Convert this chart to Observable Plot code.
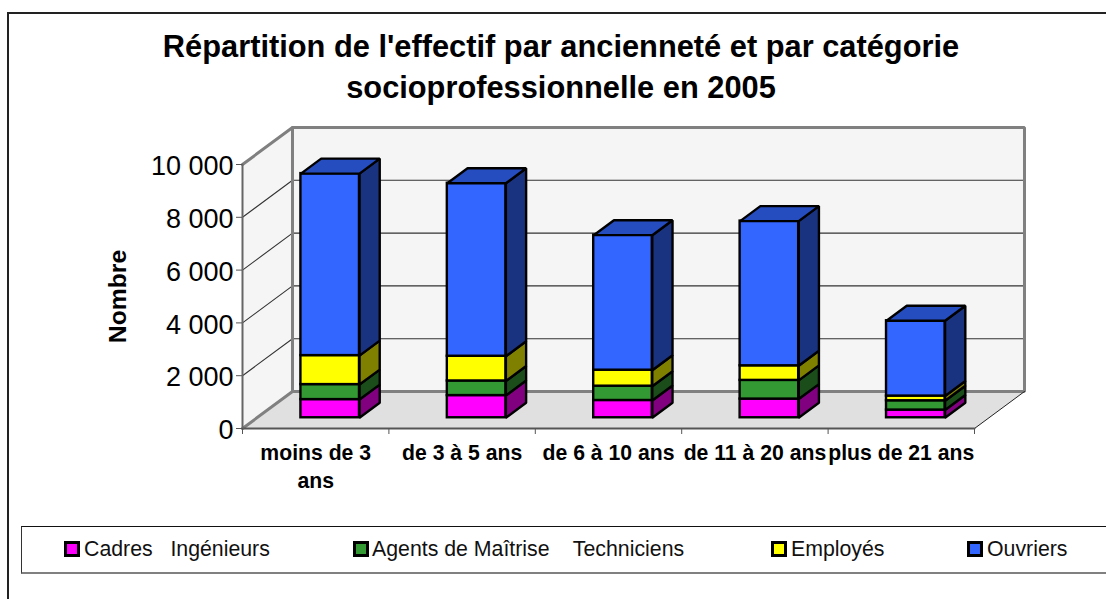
<!DOCTYPE html>
<html lang="fr">
<head>
<meta charset="utf-8">
<script src="https://cdn.jsdelivr.net/npm/d3@7"></script>
<script src="https://cdn.jsdelivr.net/npm/@observablehq/plot@0.6"></script>
<style>
html,body{margin:0;padding:0;background:#fff;width:1106px;height:599px;overflow:hidden;font-family:"Liberation Sans",Arial,sans-serif}
#frame{position:absolute;left:7px;top:12px;width:1200px;height:700px;border-left:2px solid #222;border-top:2px solid #222}
#title{position:absolute;left:0;width:1122px;top:27px;text-align:center;font-weight:bold;font-size:30.8px;line-height:40.5px;color:#000}
#legend{position:absolute;left:21px;top:526px;width:1200px;height:45px;border-left:1px solid #333;border-top:1px solid #111;border-bottom:2px solid #808080}
.item{position:absolute;top:14px;font-size:21.3px;line-height:17px;white-space:pre;color:#111}
.sw{position:absolute;top:14px;width:16px;height:16px;box-sizing:border-box;border:3px solid #000}
#chart{position:absolute;left:0;top:0}
</style>
</head>
<body>
<div id="frame"></div>
<div id="chart"></div>
<div id="title">Répartition de l'effectif par ancienneté et par catégorie<br>socioprofessionnelle en 2005</div>
<div id="legend"></div>
<script>
const categories = ["moins de 3\nans", "de 3 à 5 ans", "de 6 à 10 ans", "de 11 à 20 ans", "plus de 21 ans"];
const cadres   = [689, 841, 655, 708, 292];
const agents   = [568, 553, 542, 708, 352];
const employes = [1098, 936, 606, 553, 178];
const ouvriers = [6894, 6553, 5114, 5481, 2852];
const yTicks = [0, 2000, 4000, 6000, 8000, 10000];
const xTicks = [0, 1, 2, 3, 4, 5];
const seriesNames = ["Cadres   Ingénieurs", "Agents de Maîtrise    Techniciens", "Employés", "Ouvriers"];
const seriesValues = [cadres, agents, employes, ouvriers];
const frontColors = ["#ff00ff", "#339933", "#ffff00", "#3366ff"];
const sideColors = ["#800080", "#1a4d1a", "#808000", "#1a3380"];
const topColor = "#264dbf";
const legendSwatchX = [42, 331, 749, 945];
const legendTextX = [62, 350, 769, 965];

// oblique projection of the 3D box: depth 0 = front edge, depth 1 = back wall
const DX = 0.3415, DY = 1401.5;
const P = (c, v, d = 0) => ({x: c + d * DX, y: v + d * DY});
const D0 = 0.29, D1 = 0.695, HALF = 0.2;
const poly = (...pts) => pts.map(([c, v, d]) => P(c, v, d));
const closed = {x: "x", y: "y", curve: "linear-closed"};

const wallBack = poly([0,0,1],[5,0,1],[5,10000,1],[0,10000,1]);
const wallSide = poly([0,0,0],[0,0,1],[0,10000,1],[0,10000,0]);
const floor = poly([0,0,0],[5,0,0],[5,0,1],[0,0,1]);

const gridLines = yTicks.slice(1, -1).flatMap(v => [
  {g: v, ...P(0, v, 0)}, {g: v, ...P(0, v, 1)}, {g: v, ...P(5, v, 1)}
]);

// stacked segments
const segments = seriesValues.map((vals, s) => vals.map((v, i) => {
  const y0 = d3.sum(seriesValues.slice(0, s), a => a[i]);
  return {s, i, y0, y1: y0 + v};
}));

const barStroke = {stroke: "#000", strokeWidth: 2.4, strokeLinejoin: "miter"};
const barMarks = segments.flatMap((segs, s) => {
  const rows = segs.map(o => {
    const c = o.i + 0.5;
    return {...o, x1: P(c - HALF, 0, D0).x, x2: P(c + HALF, 0, D0).x, v1: P(c, o.y0, D0).y, v2: P(c, o.y1, D0).y, c};
  });
  const sides = rows.flatMap(o => poly([o.c+HALF,o.y0,D0],[o.c+HALF,o.y0,D1],[o.c+HALF,o.y1,D1],[o.c+HALF,o.y1,D0]).map(p => ({...p, id: o.i})));
  const marks = [
    Plot.line(sides, {...closed, z: "id", fill: sideColors[s], ...barStroke}),
    Plot.rect(rows, {x1: "x1", x2: "x2", y1: "v1", y2: "v2", fill: frontColors[s], stroke: "#000", strokeWidth: 2.4})
  ];
  if (s === seriesValues.length - 1) {
    const tops = rows.flatMap(o => poly([o.c-HALF,o.y1,D0],[o.c+HALF,o.y1,D0],[o.c+HALF,o.y1,D1],[o.c-HALF,o.y1,D1]).map(p => ({...p, id: o.i})));
    marks.push(Plot.line(tops, {...closed, z: "id", fill: topColor, ...barStroke}));
  }
  return marks;
});

const fmt = d => String(d).replace(/\B(?=(\d{3})+$)/g, " ");

const chart = Plot.plot({
  width: 1106, height: 599,
  marginLeft: 242, marginRight: 132, marginTop: 164, marginBottom: 171,
  style: {background: "transparent", fontFamily: "'Liberation Sans',Arial,sans-serif", overflow: "visible"},
  x: {domain: [0, 5], axis: null},
  y: {domain: [0, 10000], axis: null},
  marks: [
    Plot.line(wallBack, {...closed, fill: "#f5f5f5", stroke: "none"}),
    Plot.line(wallSide, {...closed, fill: "#f5f5f5", stroke: "none"}),
    Plot.line(floor, {...closed, fill: "#e0e0e0", stroke: "none"}),
    Plot.line(gridLines, {x: "x", y: "y", z: "g", stroke: "#333", strokeWidth: 1.1}),
    // wall outlines
    Plot.line(poly([0,0,0],[0,0,1],[5,0,1],[5,10000,1],[0,10000,1],[0,10000,0]), {x: "x", y: "y", stroke: "#808080", strokeWidth: 3, strokeLinejoin: "miter"}),
    Plot.line(poly([0,0,1],[0,10000,1]), {x: "x", y: "y", stroke: "#808080", strokeWidth: 3}),
    Plot.line(poly([5,0,0],[5,0,1]), {x: "x", y: "y", stroke: "#222", strokeWidth: 1}),
    Plot.line(poly([0,0,0],[5,0,0]), {x: "x", y: "y", stroke: "#555", strokeWidth: 2}),
    Plot.line(poly([0,0,0],[0,10000,0]), {x: "x", y: "y", stroke: "#666", strokeWidth: 2}),
    Plot.axisY({ticks: yTicks, tickFormat: () => "", tickSize: 6, label: null, stroke: "#555"}),
    Plot.text(yTicks, {x: () => 0, y: d => d, text: fmt, textAnchor: "end", dx: -9, dy: 2, fontSize: 27, fill: "#000"}),
    Plot.axisX({ticks: xTicks, tickFormat: () => "", tickSize: 6, label: null, stroke: "#555"}),
    ...barMarks,
    Plot.text(categories, {
      x: (d, i) => i + 0.5, y: () => 0, text: d => d, dy: 12,
      fontSize: 21.2, fontWeight: "bold", fill: "#000", lineAnchor: "top", lineHeight: 1.3
    }),
    Plot.text(["Nombre"], {
      frameAnchor: "left", dx: -124, dy: 0, rotate: -90, text: d => d, textAnchor: "middle",
      fontSize: 24.7, fontWeight: "bold", fill: "#000"
    })
  ]
});
document.getElementById("chart").append(chart);

const legend = document.getElementById("legend");
seriesNames.forEach((name, i) => {
  const sw = document.createElement("span");
  sw.className = "sw"; sw.style.left = legendSwatchX[i] + "px"; sw.style.background = frontColors[i];
  const t = document.createElement("span");
  t.className = "item"; t.style.left = legendTextX[i] + "px"; t.textContent = name;
  legend.append(sw, t);
});
</script>
</body>
</html>
